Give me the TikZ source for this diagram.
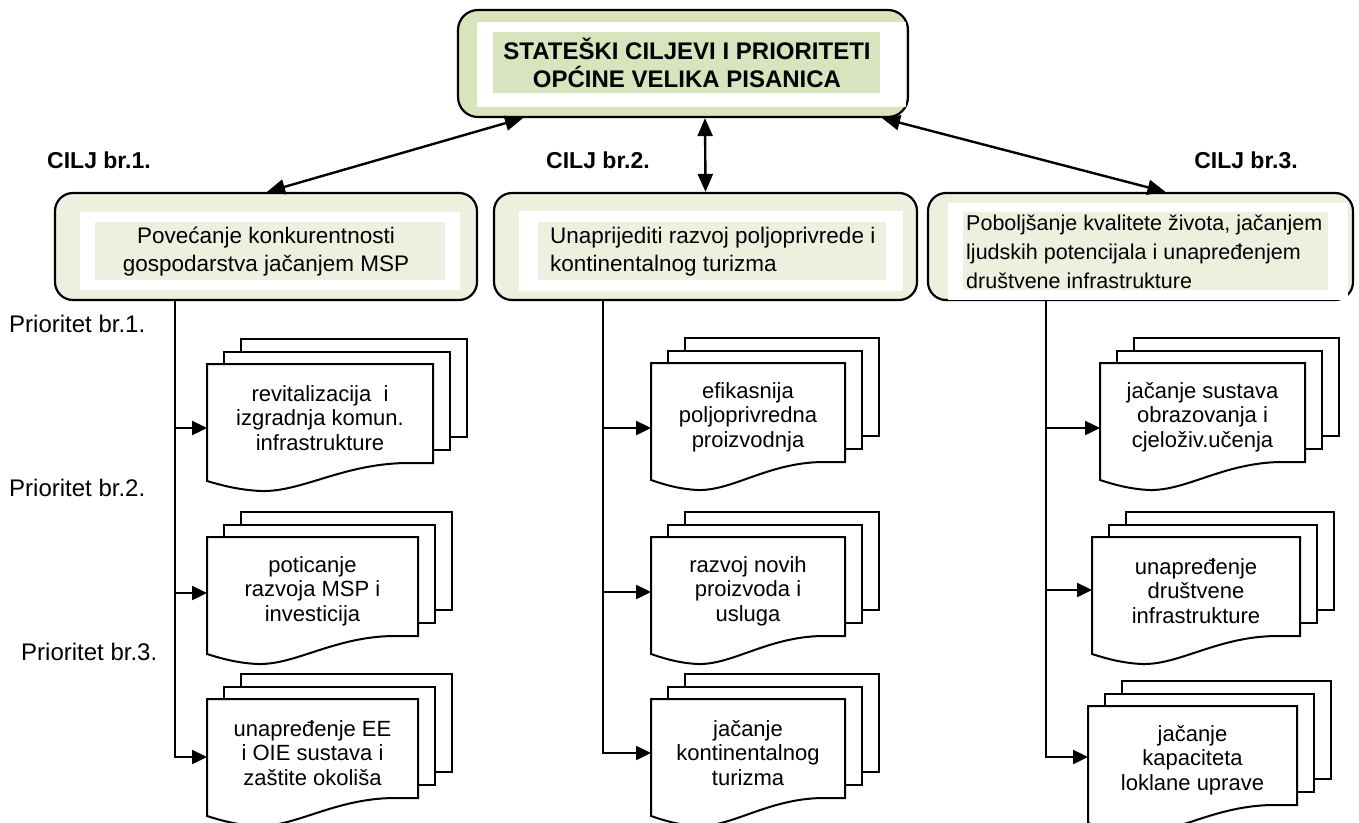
\documentclass[tikz,border=0pt]{standalone}
\usepackage{fontspec}
\setmainfont{Liberation Sans}
\usetikzlibrary{arrows.meta}
\definecolor{topgreen}{HTML}{D7E4BD}
\definecolor{goalgreen}{HTML}{EBF1DE}
\newcommand\mdoc[6]{%
 \draw[docline] ({#2+34},{#3-25}) rectangle ({#4+34},{#3+73});
 \draw[docline] ({#2+17},{#3-12.5}) rectangle ({#4+17},{#3+86});
 \draw[docline] (#2,#3) -- (#4,#3) -- (#4,{#3+99}) -- ({#4-0.12*(#4-#2)},{#3+99})
   .. controls ({#2+0.6*(#4-#2)},{#3+100}) and ({#2+0.42*(#4-#2)},{#3+128}) .. ({#2+0.24*(#4-#2)},{#3+127})
   .. controls ({#2+0.14*(#4-#2)},{#3+126}) and ({#2+0.06*(#4-#2)},{#3+121}) .. (#2,{#3+117}) -- cycle;
 \node[doctext] (#1) at ({(#2+#4)/2},{#3+54}) {#6};
 \coordinate (#1-in) at (#2,#5);
}
\begin{document}
\begin{tikzpicture}[x=1pt,y=-1pt,
  conn/.style={line width=2.4pt},
  biarrow/.style={conn,{Triangle[length=18pt,width=15pt]}-{Triangle[length=18pt,width=15pt]}},
  toarrow/.style={conn,-{Triangle[length=15pt,width=14pt]}},
  docline/.style={draw=black,line width=2pt,fill=white},
  doctext/.style={align=center,font=\fontsize{22}{24.5}\selectfont,inner sep=0pt},
  goalbox/.style={draw=black,line width=2.2pt,fill=goalgreen,rounded corners=18pt,minimum width=422pt,minimum height=107pt,inner sep=0pt},
  topbox/.style={draw=black,line width=2.2pt,fill=topgreen,rounded corners=20pt,minimum width=450pt,minimum height=107pt,inner sep=0pt},
  goaltext/.style={font=\fontsize{22.5}{28}\selectfont,inner sep=0pt},
  cilj/.style={font=\fontsize{23}{28}\selectfont\bfseries,inner sep=0pt},
  prio/.style={font=\fontsize{24}{28}\selectfont,inner sep=0pt,anchor=west}]
\useasboundingbox (0,0) rectangle (1359,822);
\clip (0,0) rectangle (1359,822);

% top box
\node[topbox] (top) at (683,63.5) {};
\fill[white] (477,22) rectangle (906,107);
\fill[topgreen] (493,32) rectangle (880,93);
\node[align=center,font=\fontsize{24}{28.5}\selectfont\bfseries,inner sep=0pt] (topt) at (687,63) {STATEŠKI CILJEVI I PRIORITETI\\OPĆINE VELIKA PISANICA};

% goal boxes
\node[goalbox] (g1) at (266,246.5) {};
\fill[white] (80,212) rectangle (460,290);
\fill[goalgreen] (95,222) rectangle (445,280);
\node[goaltext,align=center] (g1t) at (266,252) {Povećanje konkurentnosti\\gospodarstva jačanjem MSP};

\node[goalbox,minimum width=423pt] (g2) at (705.5,246.5) {};
\fill[white] (519,211) rectangle (903,291);
\fill[goalgreen] (538,222) rectangle (886,280);
\node[goaltext,align=left,anchor=west] (g2t) at (550,252) {Unaprijediti razvoj poljoprivrede i\\kontinentalnog turizma};

\node[goalbox,minimum width=425pt] (g3) at (1140.5,246.5) {};
\fill[white] (948,203) rectangle (1348,299.5);
\fill[goalgreen] (963,212) rectangle (1328,290);
\node[align=left,anchor=west,font=\fontsize{21.5}{29}\selectfont,inner sep=0pt] (g3t) at (966,252) {Poboljšanje kvalitete života, jačanjem\\ljudskih potencijala i unapređenjem\\društvene infrastrukture};

% labels
\node[cilj] (c1) at (99,160) {CILJ br.1.};
\node[cilj] (c2) at (598,160) {CILJ br.2.};
\node[cilj] (c3) at (1246,160) {CILJ br.3.};
\node[prio] (p1) at (9,324) {Prioritet br.1.};
\node[prio] (p2) at (9,488) {Prioritet br.2.};
\node[prio] (p3) at (21,652) {Prioritet br.3.};

% arrows top <-> goals
\draw[biarrow] ([xshift=-160pt]top.south) -- ([xshift=1pt]g1.north);
\draw[biarrow] ([xshift=22pt]top.south) -- (g2.north);
\draw[biarrow] ([xshift=199pt]top.south) -- ([xshift=25pt]g3.north);

% documents
\mdoc{d11}{207}{364}{433}{428}{revitalizacija\ \ i\\izgradnja komun.\\infrastrukture}
\mdoc{d12}{207}{537}{418}{593}{poticanje\\razvoja MSP i\\investicija}
\mdoc{d13}{207}{699}{418}{757}{unapređenje EE\\i OIE sustava i\\zaštite okoliša}
\mdoc{d21}{651}{363}{845}{428}{efikasnija\\poljoprivredna\\proizvodnja}
\mdoc{d22}{651}{537}{845}{592}{razvoj novih\\proizvoda i\\usluga}
\mdoc{d23}{651}{699}{845}{753}{jačanje\\kontinentalnog\\turizma}
\mdoc{d31}{1100}{363}{1305}{428}{jačanje sustava\\obrazovanja i\\cjeloživ.učenja}
\mdoc{d32}{1092}{537}{1300}{590}{unapređenje\\društvene\\infrastrukture}
\mdoc{d33}{1088}{706}{1297}{757}{jačanje\\kapaciteta\\loklane uprave}

% trunk lines
\coordinate (v1) at ([xshift=-91pt]g1.south);
\coordinate (v2) at ([xshift=-102.5pt]g2.south);
\coordinate (v3) at ([xshift=-94.5pt]g3.south);
\draw[toarrow] (v1) |- (d13-in);
\draw[toarrow] (v1 |- d11-in) -- (d11-in);
\draw[toarrow] (v1 |- d12-in) -- (d12-in);
\draw[toarrow] (v2) |- (d23-in);
\draw[toarrow] (v2 |- d21-in) -- (d21-in);
\draw[toarrow] (v2 |- d22-in) -- (d22-in);
\draw[toarrow] (v3) |- (d33-in);
\draw[toarrow] (v3 |- d31-in) -- (d31-in);
\draw[toarrow] (v3 |- d32-in) -- (d32-in);
\end{tikzpicture}
\end{document}
